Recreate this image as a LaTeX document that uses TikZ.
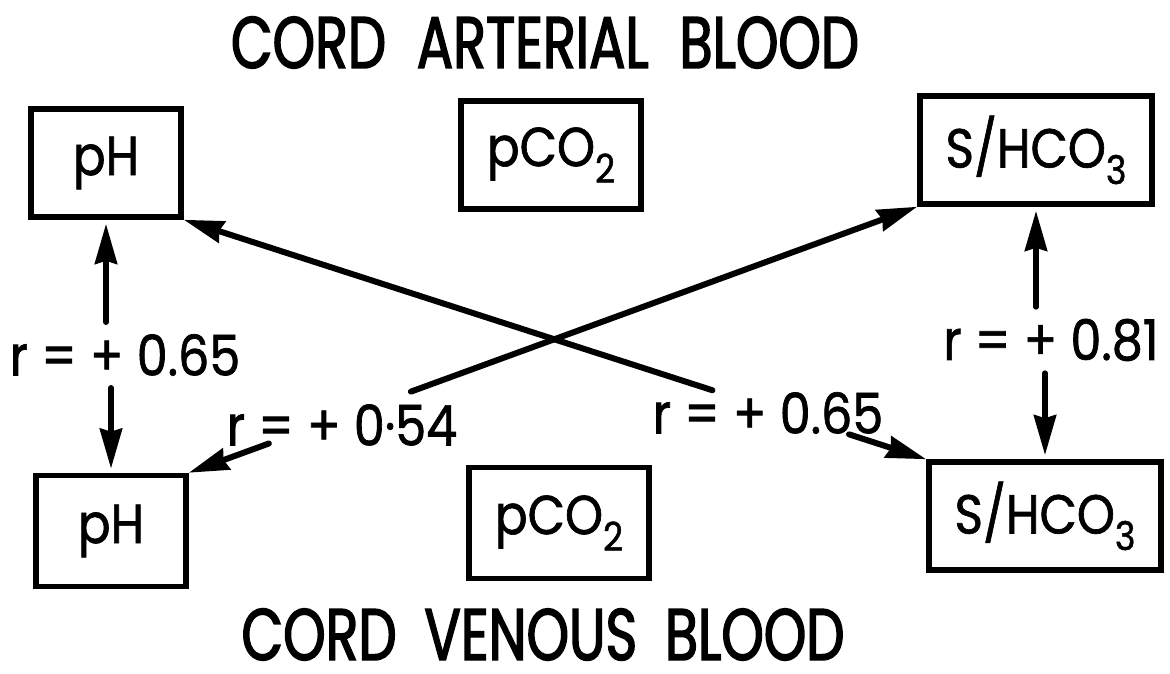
\documentclass[tikz,border=0pt]{standalone}
\usepackage{fontspec}
\setmainfont{Poppins}[FakeStretch=0.88, FakeBold=1.2]
\newfontfamily\headfont{Poppins}[FakeStretch=0.74, FakeBold=2]
\usetikzlibrary{arrows.meta}
% lowered subscript in the text face
\newcommand{\low}[1]{\raisebox{-0.3em}{\scalebox{0.72}{#1}}}

\begin{document}
\begin{tikzpicture}[x=1pt,y=-1pt,
    quantity/.style ={rectangle, draw, line width=5.5pt, inner sep=0pt, minimum width=#1, minimum height=108pt, font=\fontsize{55}{55}\selectfont},
    quantity/.default=150pt,
    coeff/.style ={inner sep=0pt, font=\fontsize{56}{56}\selectfont},
    heading/.style ={anchor=base, inner sep=0pt, text depth=0pt, font=\headfont\fontsize{73}{73}\selectfont},
    corr/.style ={line width=6pt, line cap=round, -{Stealth[length=40pt,width=22pt,inset=3pt]}}]
  \useasboundingbox (0,0) rectangle (1170,674);
  \node[heading] (art) at (545,68) {CORD\hspace{0.42em}ARTERIAL\hspace{0.42em}BLOOD};
  \node[heading] (ven) at (543,660) {CORD\hspace{0.38em}VENOUS\hspace{0.38em}BLOOD};
  % arterial row
  \node[quantity] (phA) at (106,163) {pH};
  \node[quantity=180pt] (pco2A) at (551,155) {pCO\low{2}};
  \node[quantity=232pt] (hco3A) at (1036,150) {S/HCO\low{3}};
  % venous row
  \node[quantity, minimum height=111pt] (phV) at (111,531) {pH};
  \node[quantity=180pt, minimum height=111pt] (pco2V) at (559,523) {pCO\low{2}};
  \node[quantity=232pt] (hco3V) at (1045,516) {S/HCO\low{3}};
  % coefficients
  \node[coeff] (lPh) at (125,355) {r = + 0.65};
  \node[coeff] (lHco3) at (1051,340) {r = + 0.81};
  \node[coeff] (l54) at (342,425) {r = + 0·54};
  \node[coeff] (l65) at (768,413) {r = + 0.65};
  % vertical pairs
  \draw[corr, shorten <=12pt, shorten >=4pt] (lPh.north -| phA) -- (phA);
  \draw[corr, shorten <=12pt, shorten >=4pt] (lPh.south -| phV) -- (phV);
  \draw[corr, shorten <=12pt, shorten >=4pt] (lHco3.north -| hco3A) -- (hco3A);
  \draw[corr, shorten <=12pt, shorten >=4pt] (lHco3.south -| hco3V) -- (hco3V);
  % crossed pairs, broken at the labels
  \path (phV.north east) -- (hco3A.south west) coordinate[pos=0.11] (a54) coordinate[pos=0.305] (b54);
  \draw[corr] (a54) -- (phV.north east);
  \draw[corr] (b54) -- (hco3A.south west);
  \path (phA.south east) -- (hco3V.north west) coordinate[pos=0.712] (a65) coordinate[pos=0.896] (b65);
  \draw[corr] (a65) -- (phA.south east);
  \draw[corr] (b65) -- (hco3V.north west);
\end{tikzpicture}
\end{document}
